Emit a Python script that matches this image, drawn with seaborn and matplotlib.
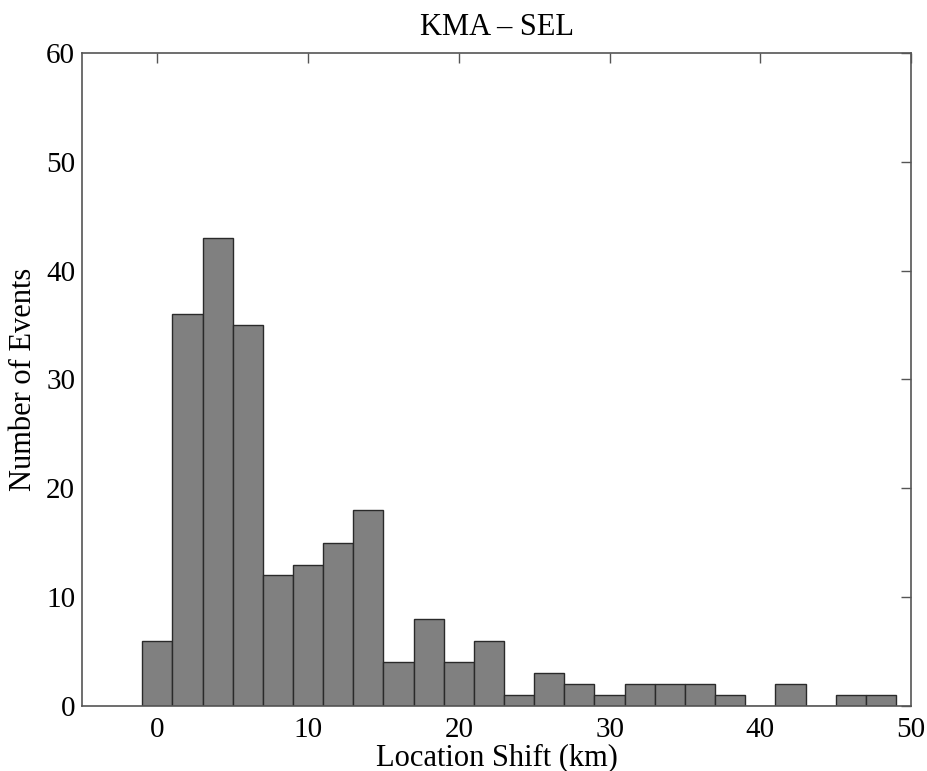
import numpy as np
import pandas as pd
import matplotlib
matplotlib.use("Agg")
import matplotlib.pyplot as plt
import seaborn as sns

# Histogram bins (km): centres and counts
bin_centers = [0, 2, 4, 6, 8, 10, 12, 14, 16, 18, 20, 22, 24, 26, 28,
               30, 32, 34, 36, 38, 40, 42, 44, 46, 48]
event_counts = [6, 36, 43, 35, 12, 13, 15, 18, 4, 8, 4, 6, 1, 3, 2,
                1, 2, 2, 2, 1, 0, 2, 0, 1, 1]
bin_width = 2
x_ticks = [0, 10, 20, 30, 40, 50]
y_ticks = [0, 10, 20, 30, 40, 50, 60]

df = pd.DataFrame({"shift": bin_centers, "count": event_counts})

sns.set_theme(style="white")
plt.rcParams["font.family"] = ["Liberation Serif", "DejaVu Serif"]
plt.rcParams["text.color"] = "black"
plt.rcParams["axes.labelcolor"] = "black"
plt.rcParams["xtick.labelcolor"] = "black"
plt.rcParams["ytick.labelcolor"] = "black"

fig = plt.figure(figsize=(9.28, 7.71), dpi=100)
ax = fig.add_axes([0.0884, 0.0843, 0.8933, 0.847])

edges = list(np.arange(bin_centers[0] - bin_width / 2,
                       bin_centers[-1] + bin_width, bin_width))
sns.histplot(data=df, x="shift", weights="count", bins=edges, ax=ax,
             color="#808080", alpha=1.0, edgecolor="#2a2a2a", linewidth=1.0)

ax.set_xlim(-5, 50)
ax.set_ylim(0, 60)
ax.set_xticks(x_ticks)
ax.set_yticks(y_ticks)
ax.tick_params(direction="in", length=7, width=1.0, color="#555555",
               labelcolor="black", top=True, right=True, labelsize=21)
ax.tick_params(axis="y", pad=5)
ax.tick_params(axis="x", pad=8)
for s in ax.spines.values():
    s.set_color("#555555")
    s.set_linewidth(1.2)

ax.set_title("KMA \u2013 SEL", fontsize=22, pad=13, color="black")
ax.set_xlabel("Location Shift (km)", fontsize=22, labelpad=0, color="black")
ax.set_ylabel("Number of Events", fontsize=22, labelpad=6, color="black")

fig.savefig("out.png", dpi=100, facecolor="white")
